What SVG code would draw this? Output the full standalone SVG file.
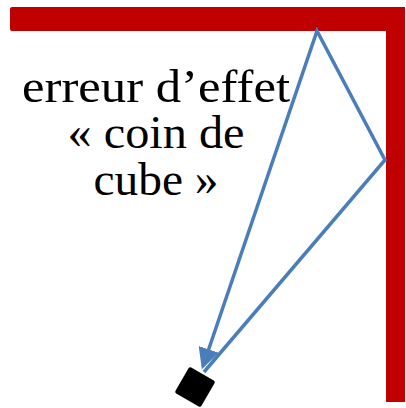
<svg xmlns="http://www.w3.org/2000/svg" width="406" height="408" viewBox="0 0 406 408">
<style>
.wall{fill:#C00000}
.ray{fill:none;stroke:#4A7EBB;stroke-width:3.5}
.lbl{font-family:"Liberation Serif",serif;font-size:46px;fill:#000;text-anchor:middle}
</style>
<defs>
<marker id="ah" markerWidth="6" markerHeight="6" refX="5" refY="3" orient="auto" markerUnits="strokeWidth" viewBox="0 0 6 6">
<path d="M0,0 L6,3 L0,6 z" fill="#4A7EBB"/>
</marker>
</defs>
<g id="wall">
<path class="wall" d="M12,7 H405 V402 H386 V31 H12 Q10,31 10,29 V9 Q10,7 12,7 z"/>
</g>
<g id="camera">
<rect x="-15" y="-15" width="30" height="30" rx="2" fill="#000" transform="translate(195,387) rotate(30)"/>
</g>
<g id="label">
<text class="lbl" x="156" y="102" textLength="268" lengthAdjust="spacingAndGlyphs">erreur d’effet</text>
<text class="lbl" x="156" y="148" textLength="177" lengthAdjust="spacingAndGlyphs">« coin de</text>
<text class="lbl" x="156" y="195" textLength="125" lengthAdjust="spacingAndGlyphs">cube »</text>
</g>
<g id="connectors">
<polyline class="ray" points="204,372 385,160 317,31 203,366" marker-end="url(#ah)"/>
</g>
</svg>
